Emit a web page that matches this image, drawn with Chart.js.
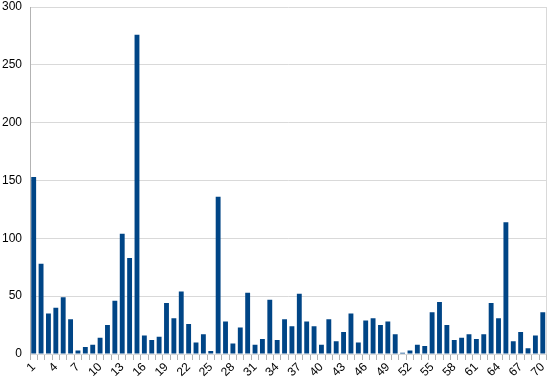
<!DOCTYPE html>
<html>
<head>
<meta charset="utf-8">
<script src="https://cdn.jsdelivr.net/npm/chart.js@4.4.0/dist/chart.umd.min.js"></script>
<style>
  html, body { margin: 0; padding: 0; background: #fff; }
  canvas { display: block; }
</style>
</head>
<body>
<canvas id="chart" width="553" height="388"></canvas>
<script>
const categories = [];
for (let i = 1; i <= 70; i++) categories.push(String(i));

const values = [
  153, 78, 35, 40, 49, 30, 3, 6, 8, 14,
  25, 46, 104, 83, 276, 16, 12, 15, 44, 31,
  54, 26, 10, 17, 2.5, 136, 28, 9, 23, 53,
  8, 13, 47, 12, 30, 24, 52, 28, 24, 8,
  30, 11, 19, 35, 10, 29, 31, 25, 28, 17,
  1, 3, 8, 7, 36, 45, 25, 12, 14, 17,
  13, 17, 44, 31, 114, 11, 19, 5, 16, 36
];

const yTicks = [0, 50, 100, 150, 200, 250, 300];

const rightBorder = {
  id: 'rightBorder',
  afterDraw(chart) {
    const { ctx, chartArea } = chart;
    ctx.save();
    ctx.strokeStyle = '#d9d9d9';
    ctx.lineWidth = 1;
    ctx.beginPath();
    ctx.moveTo(Math.round(chartArea.right) + 0.5, chartArea.top);
    ctx.lineTo(Math.round(chartArea.right) + 0.5, chartArea.bottom);
    ctx.stroke();
    ctx.restore();
  }
};

const ctx = document.getElementById('chart').getContext('2d');
new Chart(ctx, {
  type: 'bar',
  data: {
    labels: categories,
    datasets: [{
      data: values,
      backgroundColor: '#004586',
      borderWidth: 0,
      barPercentage: 0.66,
      categoryPercentage: 1.0
    }]
  },
  options: {
    responsive: false,
    animation: false,
    layout: { padding: { top: 0, right: 5, left: 0, bottom: 0 } },
    plugins: { legend: { display: false }, tooltip: { enabled: false } },
    scales: {
      x: {
        offset: true,
        grid: {
          offset: true,
          drawOnChartArea: false,
          drawTicks: true,
          tickLength: 6,
          color: '#b3b3b3'
        },
        border: { display: false },
        ticks: {
          autoSkip: false,
          minRotation: 45,
          maxRotation: 45,
          padding: 0,
          color: '#000',
          font: { family: 'Liberation Sans', size: 12 },
          callback: function (v, i) { return i % 3 === 0 ? categories[i] : ''; }
        },
        afterFit(scale) { scale.height = 34; }
      },
      y: {
        min: 0,
        max: 300,
        afterBuildTicks(scale) { scale.ticks = yTicks.map(v => ({ value: v })); },
        grid: { color: '#d9d9d9', drawTicks: false },
        border: { display: true, color: '#b3b3b3' },
        ticks: {
          padding: 8,
          color: '#000',
          font: { family: 'Liberation Sans', size: 12 }
        },
        afterFit(scale) {
          scale.width = 30;
          scale.paddingTop = 7;
          scale.paddingBottom = 0;
        }
      }
    }
  },
  plugins: [rightBorder]
});
</script>
</body>
</html>
